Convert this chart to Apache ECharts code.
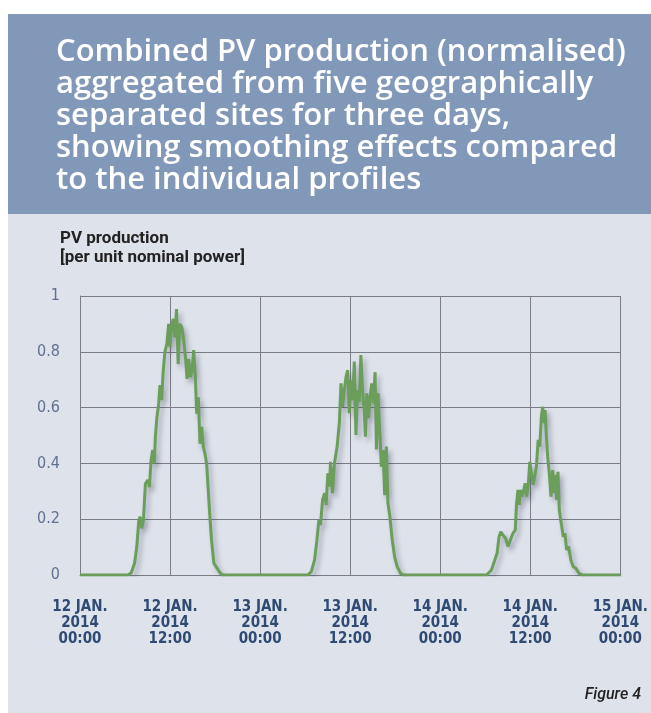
<!DOCTYPE html>
<html>
<head>
<meta charset="utf-8">
<script src="https://cdn.jsdelivr.net/npm/echarts@6/dist/echarts.min.js"></script>
<style>
  html, body { margin: 0; padding: 0; background: #ffffff; }
  #chart { width: 651px; height: 713px; }
</style>
</head>
<body>
<div id="chart"></div>
<script>
// x ticks every 12 hours from 12 Jan 2014 00:00
const tickLabels = [
  '12 JAN.\n2014\n00:00',
  '12 JAN.\n2014\n12:00',
  '13 JAN.\n2014\n00:00',
  '13 JAN.\n2014\n12:00',
  '14 JAN.\n2014\n00:00',
  '14 JAN.\n2014\n12:00',
  '15 JAN.\n2014\n00:00'
]

// hours since 12 Jan 00:00 / per unit production
const day1Hours = [0, 6.4, 6.83, 7.27, 7.57, 7.84, 8.01, 8.23, 8.45, 8.72, 9.03, 9.25, 9.47, 9.69, 9.91, 10.04, 10.26, 10.48, 10.66, 10.88, 11.1, 11.32, 11.59, 11.81, 11.98, 12.2, 12.42, 12.64, 12.86, 13.08, 13.3, 13.56, 13.83, 14.05, 14.27, 14.49, 14.71, 14.93, 15.15, 15.37, 15.55, 15.77, 15.99, 16.21, 16.43, 16.65, 16.87, 17.09, 17.31, 17.53, 17.84, 18.28, 18.72, 19.03]
const day1Values = [0, 0, 0.008, 0.042, 0.101, 0.197, 0.209, 0.167, 0.197, 0.328, 0.34, 0.315, 0.411, 0.448, 0.4, 0.496, 0.568, 0.61, 0.681, 0.627, 0.735, 0.8, 0.83, 0.9, 0.817, 0.888, 0.918, 0.852, 0.953, 0.756, 0.9, 0.888, 0.84, 0.781, 0.703, 0.775, 0.709, 0.733, 0.806, 0.709, 0.578, 0.637, 0.471, 0.531, 0.459, 0.436, 0.4, 0.305, 0.209, 0.125, 0.042, 0.024, 0.006, 0]

const day2Hours = [30.39, 30.82, 31.26, 31.57, 31.83, 32.05, 32.32, 32.59, 32.8, 33.03, 33.25, 33.38, 33.64, 33.9, 34.26, 34.56, 34.78, 35.0, 35.23, 35.45, 35.67, 35.89, 36.1, 36.33, 36.55, 36.77, 36.99, 37.21, 37.43, 37.65, 37.87, 38.04, 38.22, 38.44, 38.66, 38.88, 39.1, 39.32, 39.5, 39.72, 39.94, 40.16, 40.38, 40.6, 40.82, 41.04, 41.3, 41.61, 41.92, 42.27, 42.71, 43.15]
const day2Values = [0, 0.012, 0.054, 0.125, 0.197, 0.179, 0.269, 0.293, 0.251, 0.364, 0.317, 0.406, 0.293, 0.4, 0.46, 0.544, 0.687, 0.603, 0.663, 0.71, 0.734, 0.58, 0.698, 0.627, 0.765, 0.502, 0.663, 0.62, 0.788, 0.663, 0.591, 0.496, 0.651, 0.562, 0.639, 0.687, 0.615, 0.727, 0.45, 0.651, 0.514, 0.388, 0.448, 0.286, 0.46, 0.257, 0.209, 0.125, 0.066, 0.03, 0.006, 0]

const day3Hours = [54.17, 54.83, 55.27, 55.58, 55.84, 56.07, 56.37, 56.72, 57.03, 57.34, 57.69, 58.0, 58.18, 58.36, 58.53, 58.71, 58.88, 59.1, 59.32, 59.5, 59.72, 59.94, 60.16, 60.38, 60.6, 60.82, 61.05, 61.27, 61.48, 61.66, 61.84, 61.97, 62.15, 62.32, 62.54, 62.76, 62.99, 63.16, 63.34, 63.52, 63.69, 63.87, 64.13, 64.4, 64.62, 64.84, 65.1, 65.41, 65.72, 66.07, 66.51, 66.95, 72]
const day3Values = [0, 0.018, 0.054, 0.078, 0.137, 0.155, 0.143, 0.131, 0.102, 0.125, 0.149, 0.161, 0.257, 0.305, 0.251, 0.305, 0.281, 0.299, 0.329, 0.281, 0.317, 0.406, 0.364, 0.323, 0.317, 0.388, 0.484, 0.46, 0.567, 0.603, 0.544, 0.591, 0.496, 0.424, 0.364, 0.281, 0.376, 0.293, 0.358, 0.269, 0.37, 0.233, 0.185, 0.137, 0.149, 0.09, 0.102, 0.054, 0.03, 0.024, 0.006, 0, 0]

const pairs = (hours, values) => hours.map((h, i) => [h, values[i]])
const seriesData = [].concat(
  pairs(day1Hours, day1Values),
  pairs(day2Hours, day2Values),
  pairs(day3Hours, day3Values)
)

const chart = echarts.init(document.getElementById('chart'), null, { renderer: 'canvas' })

chart.setOption({
  animation: false,
  backgroundColor: '#ffffff',
  graphic: [
    {
      type: 'rect',
      z: -100,
      shape: { x: 8, y: 14, width: 643, height: 200 },
      style: { fill: '#8298b8' }
    },
    {
      type: 'rect',
      z: -100,
      shape: { x: 8, y: 214, width: 643, height: 499 },
      style: { fill: '#dee2eb' }
    },
    {
      type: 'text',
      left: 56,
      top: 36,
      style: {
        text: 'Combined PV production (normalised)\naggregated from five geographically\nseparated sites for three days,\nshowing smoothing effects compared\nto the individual profiles',
        fill: '#ffffff',
        font: '600 31px "Open Sans", Roboto, sans-serif',
        lineHeight: 32
      }
    },
    {
      type: 'text',
      left: 60,
      top: 229,
      style: {
        text: 'PV production\n[per unit nominal power]',
        fill: '#222222',
        font: 'bold 17px Roboto, "Noto Sans", sans-serif',
        lineHeight: 19
      }
    },
    {
      type: 'text',
      right: 10,
      top: 687,
      style: {
        text: 'Figure 4',
        fill: '#222222',
        font: 'italic 500 16px Roboto, "Noto Sans", sans-serif'
      }
    }
  ],
  grid: {
    left: 80,
    right: 26,
    top: 296,
    bottom: 138
  },
  xAxis: {
    type: 'value',
    min: 0,
    max: 72,
    interval: 12,
    axisLine: { show: true, lineStyle: { color: '#7a7d86', width: 1 } },
    axisTick: { show: false },
    splitLine: { show: true, lineStyle: { color: '#7a7d86', width: 1 } },
    axisLabel: {
      margin: 24,
      color: '#2f4a73',
      fontSize: 15,
      fontWeight: 'bold',
      lineHeight: 16,
      fontFamily: '"Liberation Sans Narrow", "DejaVu Sans Condensed", sans-serif',
      formatter: function(v) {
        return tickLabels[Math.round(v / 12)]
      }
    }
  },
  yAxis: {
    type: 'value',
    min: 0,
    max: 1,
    interval: 0.2,
    axisLine: { show: true, lineStyle: { color: '#7a7d86', width: 1 } },
    axisTick: { show: false },
    splitLine: { show: true, lineStyle: { color: '#7a7d86', width: 1 } },
    axisLabel: {
      margin: 20,
      color: '#5f7092',
      fontSize: 16,
      fontFamily: '"Liberation Sans Narrow", "DejaVu Sans Condensed", sans-serif'
    }
  },
  series: [
    {
      type: 'line',
      data: seriesData,
      showSymbol: false,
      lineStyle: {
        color: '#6a9e5a',
        width: 3,
        shadowColor: 'rgba(40, 50, 70, 0.35)',
        shadowBlur: 5,
        shadowOffsetX: 3,
        shadowOffsetY: 4
      }
    }
  ]
})
</script>
</body>
</html>
